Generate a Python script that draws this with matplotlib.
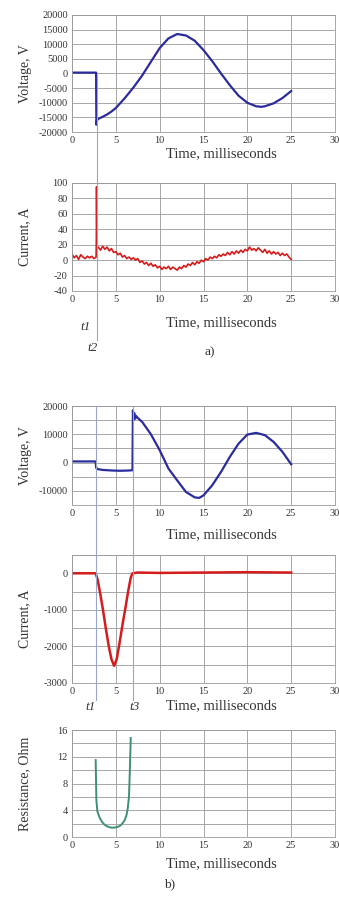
import numpy as np
import matplotlib
matplotlib.use('Agg')
import matplotlib.pyplot as plt
from matplotlib.lines import Line2D
from matplotlib.transforms import blended_transform_factory

plt.rcParams['font.family'] = ['Liberation Serif', 'DejaVu Serif']
plt.rcParams['axes.unicode_minus'] = False

# ---- data ----
# a) voltage
va_t = [0, 2.75, 2.78, 2.85, 3.0, 3.5, 4.0, 4.5, 5, 6, 7, 8, 9, 10, 11, 12, 13, 14,
        15, 16, 17, 18, 19, 20, 21, 21.6, 22, 23, 24, 25]
va_v = [300, 300, -17500, -16000, -15500, -14800, -14000, -13000, -11800, -8500, -4800,
        -700, 4000, 8700, 12000, 13500, 13000, 11200, 8000, 4200, 0, -4000, -7600,
        -10000, -11200, -11400, -11200, -10200, -8400, -6000]

# a) current, sampled every 0.25 ms, plus the spike at t1
ia_v = [8, 3, 6, 1, 7, 4, 2, 5, 3, 5, 2, 4,
        17, 13, 18, 14, 17, 12, 15, 10, 11, 7, 9, 4, 6, 2, 4, 1,
        3, 0, 2, -3, -1, -5, -3, -7, -4, -8, -6, -10,
        -8, -12, -9, -11, -8, -12, -9, -11, -13, -9, -11, -7,
        -9, -5, -7, -3, -6, -2, -4, 0, -2, 2, 0, 4,
        2, 5, 3, 7, 5, 8, 6, 10, 7, 11, 8, 12,
        9, 13, 10, 14, 12, 17, 13, 15, 12, 16, 13, 10,
        14, 9, 12, 8, 11, 8, 10, 6, 9, 6, 8, 4, 1]
spike_t = [2.78, 2.8, 2.85]
spike_v = [30, 95, 15]

# b) voltage
vb_t = [0, 2.7, 2.75, 2.9, 3.5, 4.5, 5.5, 6.5, 6.9, 6.95, 7.0, 7.1, 7.2, 7.3, 7.5, 8,
        9, 10, 11, 12, 13, 14, 14.5, 15, 16, 17, 18, 19, 20, 21, 22, 23, 24, 25]
vb_v = [400, 400, -1800, -2300, -2600, -2800, -2900, -2800, -2700, 18500, 15000, 17500,
        15500, 16500, 15800, 14400, 10000, 4400, -2100, -6300, -10400, -12300, -12500,
        -11600, -8000, -3300, 2000, 6700, 9900, 10500, 9700, 7300, 3800, -600]

# b) current
ib_t = [0, 2.7, 2.9, 3.2, 3.5, 3.9, 4.2, 4.5, 4.8, 5.1, 5.4, 5.8, 6.1, 6.4, 6.7, 6.9,
        7.5, 10, 15, 20, 25]
ib_v = [0, 0, -150, -530, -950, -1570, -2000, -2350, -2530, -2350, -1940, -1350, -940,
        -500, -120, 0, 20, 10, 20, 30, 20]

# b) resistance
r_t = [2.7, 2.75, 2.78, 2.9, 3.15, 3.4, 3.7, 4.0, 4.44, 4.8, 5.2, 5.5, 5.74, 6.0,
       6.2, 6.35, 6.5, 6.6, 6.7]
r_v = [11.5, 8.0, 5.5, 3.8, 2.9, 2.3, 1.85, 1.6, 1.4, 1.4, 1.5, 1.7, 2.0, 2.5, 3.2,
       4.2, 6.0, 10.0, 14.8]

t1_a = 2.8
t1_b, t3_b = 2.7, 6.95

blue = '#2a2c9e'
red = '#d41c1c'
green = '#3f8f70'
grid_c = '#9a9a9a'
txt_c = '#333333'

fig = plt.figure(figsize=(3.39, 8.97), dpi=100)
W, H = 339, 897


def make_ax(top, bottom, label_y, ylabel):
    ax = fig.add_axes([72 / W, 1 - bottom / H, 263 / W, (bottom - top) / H])
    ax.set_xlim(0, 30)
    ax.set_xticks(range(0, 31, 5))
    ax.grid(True, which='both', color=grid_c, lw=0.6)
    ax.set_axisbelow(True)
    for s in ax.spines.values():
        s.set_color(grid_c)
        s.set_linewidth(0.6)
    ax.tick_params(which='both', length=0, labelsize=7.5, colors=txt_c, pad=3)
    ax.set_xlabel('Time, milliseconds', fontsize=10.5, color=txt_c, va='center')
    ax.xaxis.set_label_coords(221 / W, 1 - label_y / H, transform=fig.transFigure)
    ax.set_ylabel(ylabel, fontsize=10, color=txt_c, va='center')
    ax.yaxis.set_label_coords(25 / W, 1 - (top + bottom) / 2 / H,
                              transform=fig.transFigure)
    return ax


# panel a) voltage
ax1 = make_ax(15, 132, 154, 'Voltage, V')
ax1.plot(va_t, va_v, color=blue, lw=1.6)
ax1.set_ylim(-20000, 20000)
ax1.set_yticks(range(-20000, 20001, 5000))

# panel a) current
ax2 = make_ax(183, 291, 323, 'Current, A')
ia_t = np.arange(len(ia_v)) * 0.25
ia_all_t = np.concatenate([ia_t[:12], spike_t, ia_t[12:]])
ia_all_v = np.concatenate([ia_v[:12], spike_v, ia_v[12:]])
ax2.plot(ia_all_t, ia_all_v, color=red, lw=1.2)
ax2.set_ylim(-40, 100)
ax2.set_yticks(range(-40, 101, 20))

# panel b) voltage
ax3 = make_ax(406, 505, 535, 'Voltage, V')
ax3.plot(vb_t, vb_v, color=blue, lw=1.6)
ax3.set_ylim(-15000, 20000)
ax3.set_yticks(range(-10000, 20001, 10000))
ax3.set_yticks(range(-15000, 20001, 5000), minor=True)

# panel b) current
ax4 = make_ax(555, 683, 706, 'Current, A')
ax4.plot(ib_t, ib_v, color=red, lw=1.8)
ax4.set_ylim(-3000, 500)
ax4.set_yticks(range(-3000, 1, 1000))
ax4.set_yticks(range(-3000, 501, 500), minor=True)

# panel b) resistance
ax5 = make_ax(730, 837, 864, 'Resistance, Ohm')
ax5.plot(r_t, r_v, color=green, lw=1.4)
ax5.set_ylim(0, 16)
ax5.set_yticks(range(0, 17, 4))
ax5.set_yticks(range(0, 17, 2), minor=True)

# marker lines crossing the panels
mark_c = '#9aa6c8'
tr1 = blended_transform_factory(ax1.transData, fig.transFigure)
fig.add_artist(Line2D([t1_a, t1_a], [1 - 75 / H, 1 - 340 / H], transform=tr1,
                      color=mark_c, lw=0.8))
tr3 = blended_transform_factory(ax3.transData, fig.transFigure)
for t in (t1_b, t3_b):
    fig.add_artist(Line2D([t, t], [1 - 406 / H, 1 - 700 / H], transform=tr3,
                          color=mark_c, lw=0.8))

# labels
lab = dict(fontsize=9.5, color=txt_c, ha='center', va='center')
fig.text(86 / W, 1 - 327 / H, 't1', style='italic', **lab)
fig.text(93 / W, 1 - 348 / H, 't2', style='italic', **lab)
fig.text(210 / W, 1 - 352 / H, 'a)', **lab)
fig.text(91 / W, 1 - 707 / H, 't1', style='italic', **lab)
fig.text(135 / W, 1 - 707 / H, 't3', style='italic', **lab)
fig.text(170 / W, 1 - 884 / H, 'b)', **lab)

fig.savefig('out.png', dpi=100)
